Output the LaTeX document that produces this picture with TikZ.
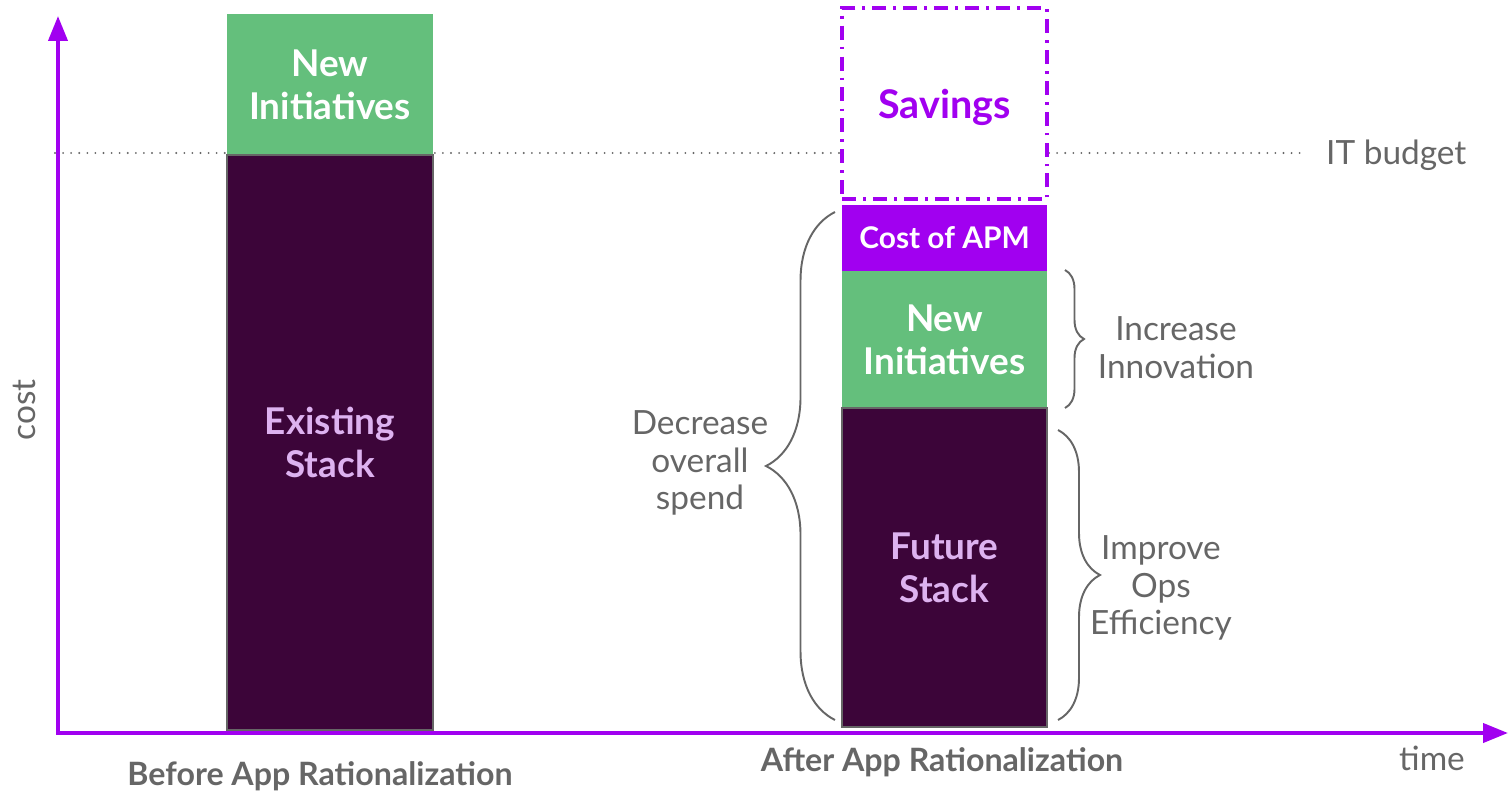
\documentclass[tikz,border=0pt]{standalone}
\usepackage{fontspec}
\setmainfont{Lato}
\usetikzlibrary{arrows.meta,decorations.pathreplacing}

\definecolor{axispurple}{HTML}{A100F0}
\definecolor{initgreen}{HTML}{64BF7C}
\definecolor{stackdark}{HTML}{3C0539}
\definecolor{stacktext}{HTML}{DDB2F0}
\definecolor{labelgray}{HTML}{666666}

\begin{document}
\begin{tikzpicture}[x=0.02cm, y=-0.02cm,
    bar/.style={rectangle, inner sep=0pt, outer sep=0pt, minimum width=4.12cm,
      align=center, font=\bfseries\fontsize{21}{24.5}\selectfont},
    greenbar/.style={bar, fill=initgreen, text=white},
    darkbar/.style={bar, fill=stackdark, draw=labelgray, line width=0.8pt, text=stacktext},
    label/.style={align=center, text=labelgray, font=\fontsize{19}{21.5}\selectfont},
    caption/.style={text=labelgray, font=\bfseries\fontsize{18.3}{21}\selectfont},
    bracket/.style={decorate, decoration={brace, amplitude=#1}, draw=labelgray, line width=1.1pt}]
    \useasboundingbox (0,0) rectangle (1508,791);

    % Budget line
    \node[label, anchor=west] (budget) at (1320,155) {IT budget};
    \coordinate (budgetstart) at (55,153);
    \draw[labelgray, line width=1.2pt, line cap=round, dash pattern=on 0pt off 4.6pt]
      (budgetstart) -- ([xshift=-8pt]budget.west |- budgetstart);

    % Axes
    \coordinate (origin) at (58,733);
    \coordinate (costend) at (58,16);
    \coordinate (timeend) at (1508,733);
    \draw[axispurple, line width=2.3pt,
      {Triangle[length=0.5cm, width=0.38cm]}-{Triangle[length=0.5cm, width=0.38cm]}]
      (costend) -- (origin) -- (timeend);
    \node[label, rotate=90] (cost) at (24,410) {cost};
    \node[label] (time) at (1432,758) {time};

    % Before
    \node[greenbar, minimum height=2.82cm] (oldinit) at (330,84.5) {New\\Initiatives};
    \node[darkbar, minimum height=11.5cm] (oldstack) at (330,442.5) {Existing\\Stack};
    \node[caption] (before) at (320,776) {Before App Rationalization};

    % After
    \node[bar, fill=white, draw=axispurple, line width=1.8pt, text=axispurple,
      dash pattern=on 8pt off 4pt on 1.6pt off 4pt, minimum width=4.1cm,
      minimum height=3.82cm, text depth=0pt, font=\bfseries\fontsize{22.5}{26}\selectfont] (savings) at (944.5,103.5) {Savings};
    \node[bar, fill=axispurple, text=white, minimum width=4.1cm, minimum height=1.32cm,
      font=\bfseries\fontsize{17}{20}\selectfont] (apm) at (944.5,238) {Cost of APM};
    \node[greenbar, minimum width=4.1cm, minimum height=2.74cm] (newinit) at (944.5,339.5) {New\\Initiatives};
    \node[darkbar, minimum width=4.1cm, minimum height=6.38cm] (newstack) at (944.5,567.5) {Future\\Stack};
    \node[caption] (after) at (942,762) {After App Rationalization};

    % Braces
    \coordinate (spendlow) at (835,720);
    \coordinate (spendhigh) at (835,212);
    \coordinate (innohigh) at (1065,270);
    \coordinate (innolow) at (1065,408);
    \coordinate (opshigh) at (1058,430);
    \coordinate (opslow) at (1058,720);
    \draw[bracket=1.38cm] (spendlow) -- (spendhigh);
    \draw[bracket=0.38cm] (innohigh) -- (innolow);
    \draw[bracket=0.84cm] (opshigh) -- (opslow);
    \node[label] (spend) at (700,463) {Decrease\\overall\\spend};
    \node[label] (inno) at (1176,348) {Increase\\Innovation};
    \node[label] (ops) at (1161,588) {Improve\\Ops\\Efficiency};
\end{tikzpicture}
\end{document}
